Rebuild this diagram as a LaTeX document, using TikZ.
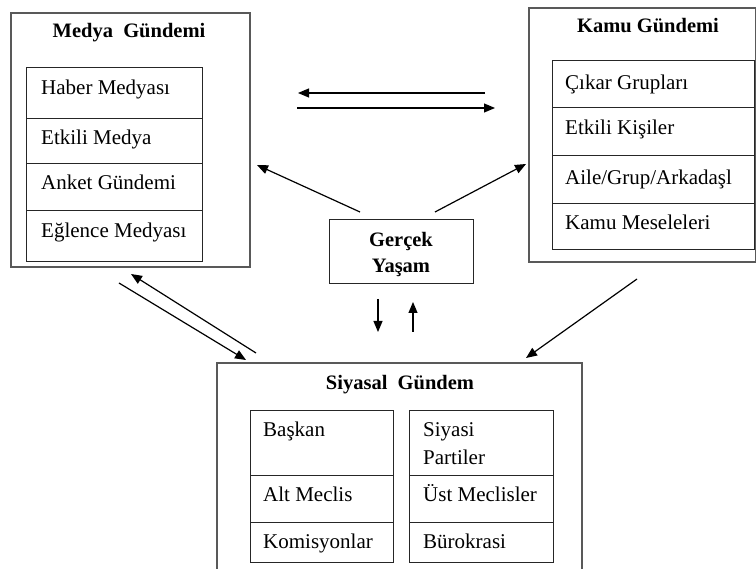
\documentclass[tikz,border=0pt]{standalone}
\usepackage{fontspec}
\setmainfont{Liberation Serif}
\usetikzlibrary{arrows.meta}
\begin{document}
\begin{tikzpicture}[x=1pt,y=-1pt,
  frame/.style={draw=black!65, line width=1.1pt, inner sep=0pt, outer sep=0pt, anchor=north west},
  cell/.style={draw=black!85, line width=1pt, inner sep=0pt, outer sep=0pt, anchor=north west},
  item/.style={font=\fontsize{21}{24}\selectfont, anchor=base west, inner sep=0pt},
  heading/.style={font=\fontsize{20.5}{24}\selectfont\bfseries, anchor=base, inner sep=0pt},
  flow/.style={line width=1.2pt, -{Triangle[length=11pt,width=9pt]}}]
\clip (0,0) rectangle (756,569);

% ---- Medya Gündemi ----
\node[frame, minimum width=239pt, minimum height=254pt] (medya) at (11,13) {};
\node[heading] (medyaT) at (129,38) {Medya\ \ Gündemi};
\node[cell, minimum width=176pt, minimum height=51pt] (m1) at (26,68) {};
\node[cell, minimum width=176pt, minimum height=45pt] (m2) at (26,119) {};
\node[cell, minimum width=176pt, minimum height=47pt] (m3) at (26,164) {};
\node[cell, minimum width=176pt, minimum height=51pt] (m4) at (26,211) {};
\node[item] (m1t) at (41,95) {Haber Medyası};
\node[item] (m2t) at (41,145) {Etkili Medya};
\node[item] (m3t) at (41,190) {Anket Gündemi};
\node[item] (m4t) at (41,238) {Eğlence Medyası};

% ---- Kamu Gündemi ----
\node[frame, minimum width=227pt, minimum height=254pt] (kamu) at (529,8) {};
\node[heading] (kamuT) at (648,33) {Kamu Gündemi};
\node[cell, minimum width=202pt, minimum height=47pt] (k1) at (552,61) {};
\node[cell, minimum width=202pt, minimum height=48pt] (k2) at (552,108) {};
\node[cell, minimum width=202pt, minimum height=48pt] (k3) at (552,156) {};
\node[cell, minimum width=202pt, minimum height=46pt] (k4) at (552,204) {};
\node[item] (k1t) at (565,90) {Çıkar Grupları};
\node[item] (k2t) at (565,135) {Etkili Kişiler};
\node[item] (k3t) at (565,185) {Aile/Grup/Arkadaşl};
\node[item] (k4t) at (565,230) {Kamu Meseleleri};

% ---- Gerçek Yaşam ----
\node[cell, minimum width=144pt, minimum height=64pt] (gercek) at (329,220) {};
\node[heading] (g1) at (401,247) {Gerçek};
\node[heading] (g2) at (401,273) {Yaşam};

% ---- Siyasal Gündem ----
\node[frame, minimum width=365pt, minimum height=230pt] (siyasal) at (217,363) {};
\node[heading] (siyasalT) at (400,390) {Siyasal\ \ Gündem};
\node[cell, minimum width=143pt, minimum height=65pt] (s1) at (250,411) {};
\node[cell, minimum width=143pt, minimum height=47pt] (s2) at (250,476) {};
\node[cell, minimum width=143pt, minimum height=40pt] (s3) at (250,523) {};
\node[cell, minimum width=144pt, minimum height=65pt] (r1) at (409,411) {};
\node[cell, minimum width=144pt, minimum height=47pt] (r2) at (409,476) {};
\node[cell, minimum width=144pt, minimum height=40pt] (r3) at (409,523) {};
\node[item] (s1t) at (263,437) {Başkan};
\node[item] (s2t) at (263,502) {Alt Meclis};
\node[item] (s3t) at (263,549) {Komisyonlar};
\node[item] (r1t) at (423,437) {Siyasi};
\node[item] (r1u) at (423,465) {Partiler};
\node[item] (r2t) at (423,502) {Üst Meclisler};
\node[item] (r3t) at (423,549) {Bürokrasi};

% ---- arrow end points ----
\coordinate (km1) at (485,93);   \coordinate (km2) at (298,93);
\coordinate (mk1) at (297,108);  \coordinate (mk2) at (495,108);
\coordinate (gm1) at (360,212);  \coordinate (gm2) at (257,165);
\coordinate (gk1) at (435,212);  \coordinate (gk2) at (526,164);
\coordinate (gs1) at (378,299);  \coordinate (gs2) at (378,332);
\coordinate (sg1) at (413,332);  \coordinate (sg2) at (413,302);
\coordinate (ms1) at (119,283);  \coordinate (ms2) at (246,360);
\coordinate (sm1) at (256,353);  \coordinate (sm2) at (131,274);
\coordinate (ks1) at (637,279);  \coordinate (ks2) at (526,358);

% ---- arrows ----
\draw[flow] (km1) -- (km2);
\draw[flow] (mk1) -- (mk2);
\draw[flow] (gm1) -- (gm2);
\draw[flow] (gk1) -- (gk2);
\draw[flow] (gs1) -- (gs2);
\draw[flow] (sg1) -- (sg2);
\draw[flow] (ms1) -- (ms2);
\draw[flow] (sm1) -- (sm2);
\draw[flow] (ks1) -- (ks2);
\end{tikzpicture}
\end{document}
